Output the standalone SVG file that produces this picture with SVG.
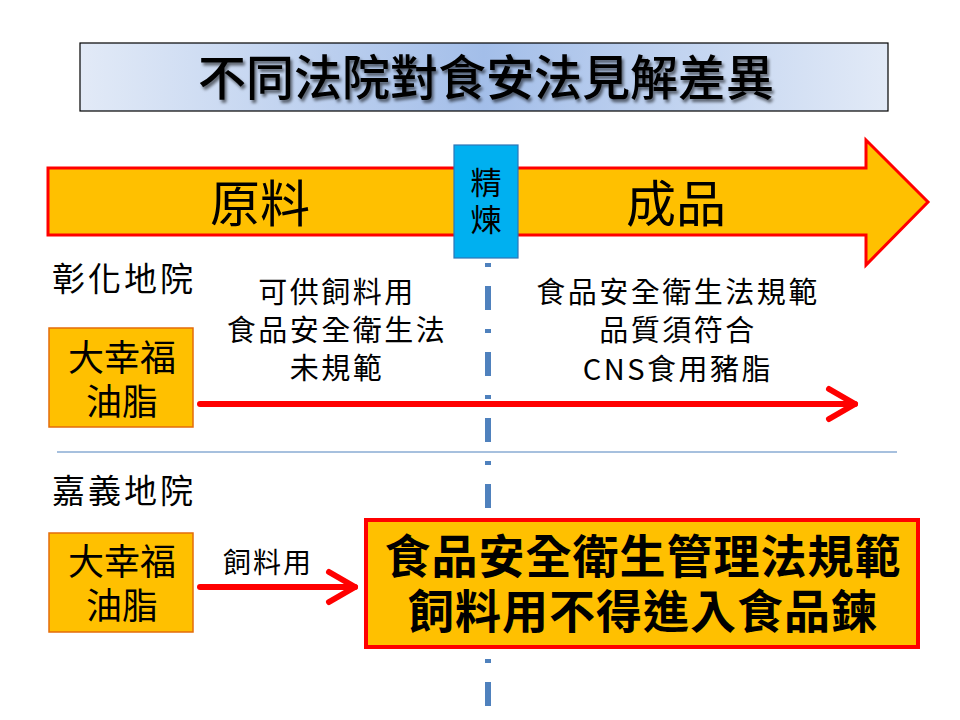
<svg xmlns="http://www.w3.org/2000/svg" width="960" height="720" viewBox="0 0 960 720">
<defs>
<linearGradient id="tg" x1="0" y1="0" x2="1" y2="0">
<stop offset="0" stop-color="#E2EAF7"/>
<stop offset="0.5" stop-color="#A3BEE9"/>
<stop offset="1" stop-color="#E2EAF7"/>
</linearGradient>
<filter id="sh" x="-5%" y="-20%" width="110%" height="140%">
<feDropShadow dx="2" dy="3" stdDeviation="1.5" flood-color="#000" flood-opacity="0.55"/>
</filter>
</defs>
<style>
text{font-family:"Noto Sans CJK TC","Noto Sans CJK SC",sans-serif;fill:#000}
.c{text-anchor:middle}
.org{fill:#FFC000;stroke:#E46C0A;stroke-width:1.5}
.red{stroke:#FF0000;stroke-width:6;fill:none;stroke-linecap:round;stroke-linejoin:round}
.mid{font-size:29px;letter-spacing:2.5px}
</style>
<rect width="960" height="720" fill="#fff"/>

<g id="title">
<rect x="80" y="43" width="808" height="68" fill="url(#tg)" stroke="#000" stroke-width="1.2"/>
<text x="486" y="95" class="c" font-size="48" font-weight="500" filter="url(#sh)">不同法院對食安法見解差異</text>
</g>

<g id="process-arrow">
<polygon points="48,168 866,168 866,140 928,202 866,265 866,235 48,235" fill="#FFC000" stroke="#FF0000" stroke-width="3"/>
<text x="260" y="222" class="c" font-size="50">原料</text>
<text x="676" y="222" class="c" font-size="50">成品</text>
</g>

<g id="refine">
<rect x="454" y="145" width="64" height="113" fill="#00B0F0" stroke="#2E75B6" stroke-width="1.2"/>
<text x="486" y="194" class="c" font-size="31">精</text>
<text x="486" y="231" class="c" font-size="31">煉</text>
</g>

<g id="connectors">
<line x1="488" y1="263" x2="488" y2="712" stroke="#4F81BD" stroke-width="6" stroke-dasharray="4 19 24 19"/>
<line x1="57" y1="452" x2="897" y2="452" stroke="#4F81BD" stroke-width="1"/>
<line x1="200" y1="404" x2="855" y2="404" class="red"/>
<polyline points="829,389 855,404 829,419" class="red"/>
<line x1="200" y1="587" x2="355" y2="587" class="red"/>
<polyline points="329,572 355,587 329,602" class="red"/>
</g>

<g id="court1">
<text x="52" y="291" font-size="33" letter-spacing="3">彰化地院</text>
</g>
<g id="court2">
<text x="52" y="503" font-size="33" letter-spacing="3">嘉義地院</text>
</g>

<g id="oil1">
<rect x="49" y="328" width="144" height="99" class="org"/>
<text x="122" y="371" class="c" font-size="36">大幸福</text>
<text x="122" y="415" class="c" font-size="36">油脂</text>
</g>

<g id="oil2">
<rect x="49" y="533" width="144" height="99" class="org"/>
<text x="122" y="575" class="c" font-size="36">大幸福</text>
<text x="122" y="619" class="c" font-size="36">油脂</text>
</g>

<g id="label-raw">
<text x="337" y="303" class="c mid">可供飼料用</text>
<text x="337" y="341" class="c mid">食品安全衛生法</text>
<text x="337" y="379" class="c mid">未規範</text>
</g>

<g id="label-product">
<text x="678" y="303" class="c mid">食品安全衛生法規範</text>
<text x="678" y="341" class="c mid">品質須符合</text>
<text x="678" y="380" class="c mid">CNS食用豬脂</text>
</g>

<g id="label-feed">
<text x="268" y="573" class="c" font-size="28" letter-spacing="2">飼料用</text>
</g>

<g id="ruling">
<rect x="366" y="520" width="552" height="127" fill="#FFC000" stroke="#FF0000" stroke-width="4"/>
<text x="643" y="573" class="c" font-size="46" font-weight="bold" letter-spacing="1">食品安全衛生管理法規範</text>
<text x="643" y="628" class="c" font-size="46" font-weight="bold" letter-spacing="1">飼料用不得進入食品鍊</text>
</g>
</svg>
